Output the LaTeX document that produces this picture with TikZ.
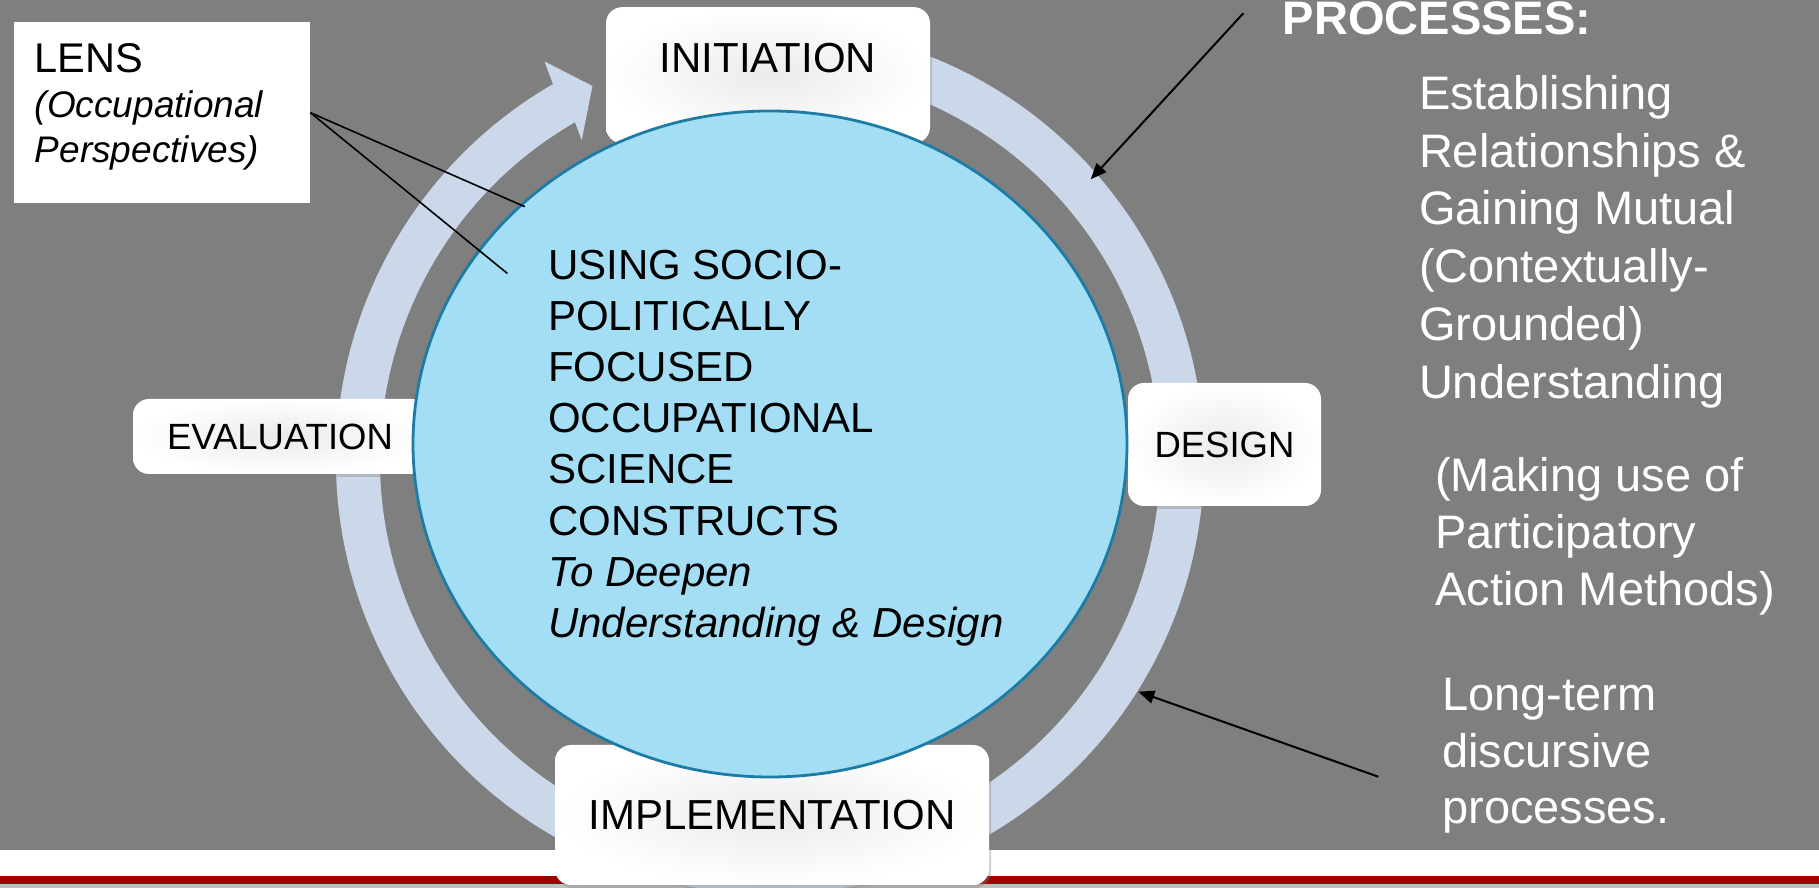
\documentclass[tikz,border=0pt]{standalone}
\usepackage{fontspec}
\setmainfont{Liberation Sans}
\usetikzlibrary{arrows.meta,shadows,shapes.geometric}

\definecolor{slidegray}{RGB}{127,127,127}
\definecolor{ringblue}{RGB}{203,216,234}
\definecolor{coreblue}{RGB}{164,222,244}
\definecolor{coreedge}{RGB}{28,124,166}
\definecolor{footred}{RGB}{160,0,0}
\definecolor{footgray}{RGB}{191,191,191}

\tikzset{
  phase/.style={rounded corners=16pt, inner color=black!8, outer color=white,
    drop shadow={opacity=0.35, shadow xshift=2pt, shadow yshift=-3pt},
    inner sep=0pt, font=\fontsize{42}{50}\selectfont},
  smallphase/.style={phase, font=\fontsize{36.5}{44}\selectfont},
  whitetext/.style={text=white, align=left, anchor=north west, inner sep=0pt,
    font=\fontsize{47}{57.7}\selectfont},
  pointer/.style={line width=1.6pt},
  callout/.style={line width=2pt, -{Triangle[length=16pt,width=13pt]}},
}

\begin{document}
\begin{tikzpicture}[x=1pt,y=1pt]
  \useasboundingbox (0,0) rectangle (1819,888);
  \fill[slidegray] (0,38) rectangle (1819,888);
  \fill[white] (0,12) rectangle (1819,38);
  \fill[footred] (0,4) rectangle (1819,12);
  \fill[footgray] (0,0) rectangle (1819,4);

  % cycle ring with its arrow head
  \begin{scope}[shift={(770,428)}]
    \fill[ringblue, drop shadow={opacity=0.25, shadow xshift=2pt, shadow yshift=-2pt}]
      (80:434) arc[start angle=80, end angle=-240, radius=434pt]
      -- (119.5:458) -- (115.4:414) -- (120.5:371) -- (120:390)
      arc[start angle=-240, end angle=80, radius=390pt] -- cycle;
  \end{scope}

  \node[phase, minimum width=324pt, minimum height=136pt, text depth=34pt] (initbox) at (768,812.8) {INITIATION};
  \node[smallphase, minimum width=193pt, minimum height=123pt] (designbox) at (1224.5,443.5) {DESIGN};
  \node[smallphase, minimum width=294pt, minimum height=75pt] (evalbox) at (280,451.5) {EVALUATION};
  \node[phase, minimum width=434pt, minimum height=140pt] (implbox) at (772,73) {IMPLEMENTATION};

  \node[ellipse, draw=coreedge, fill=coreblue, line width=2.8pt, inner sep=0pt,
    minimum width=714pt, minimum height=666pt] (core) at (770,444) {};
  \node[anchor=north west, align=left, inner sep=0pt, font=\fontsize{42}{51.2}\selectfont]
    (constructs) at (548,638.5) {USING SOCIO-\\POLITICALLY\\FOCUSED\\OCCUPATIONAL\\SCIENCE\\CONSTRUCTS\\\textit{To Deepen}\\\textit{Understanding \& Design}};

  \node[fill=white, anchor=north west, inner xsep=21pt, inner ysep=21pt, text width=254.4pt,
    align=left, text depth=110pt, font=\fontsize{37}{45}\selectfont]
    (lens) at (13.6,866) {{\fontsize{41.5}{45}\selectfont LENS}\\\textit{(Occupational}\\\textit{Perspectives)}};
  \coordinate (lenstip1) at (524.8,681.3);
  \coordinate (lenstip2) at (507.4,614.5);
  \draw[pointer] (lens.east) -- (lenstip1);
  \draw[pointer] (lens.east) -- (lenstip2);

  \coordinate (procstart) at (1243.3,874.7);
  \coordinate (procend) at (1090.7,708.7);
  \coordinate (longstart) at (1378.3,111.3);
  \coordinate (longend) at (1138.3,196.3);
  \draw[callout] (procstart) -- (procend);
  \draw[callout] (longstart) -- (longend);

  \node[whitetext, anchor=base west, font=\bfseries\fontsize{47}{57}\selectfont] (processes) at (1282.7,853) {PROCESSES:};
  \node[whitetext] (establish) at (1418.8,812.7) {Establishing\\Relationships \&\\Gaining Mutual\\(Contextually-\\Grounded)\\Understanding};
  \node[whitetext, font=\fontsize{47}{57}\selectfont] (methods) at (1435,430.6) {(Making use of\\Participatory\\Action Methods)};
  \node[whitetext, font=\fontsize{47}{56.3}\selectfont] (longterm) at (1442,209.7) {Long-term\\discursive\\processes.};
\end{tikzpicture}
\end{document}
